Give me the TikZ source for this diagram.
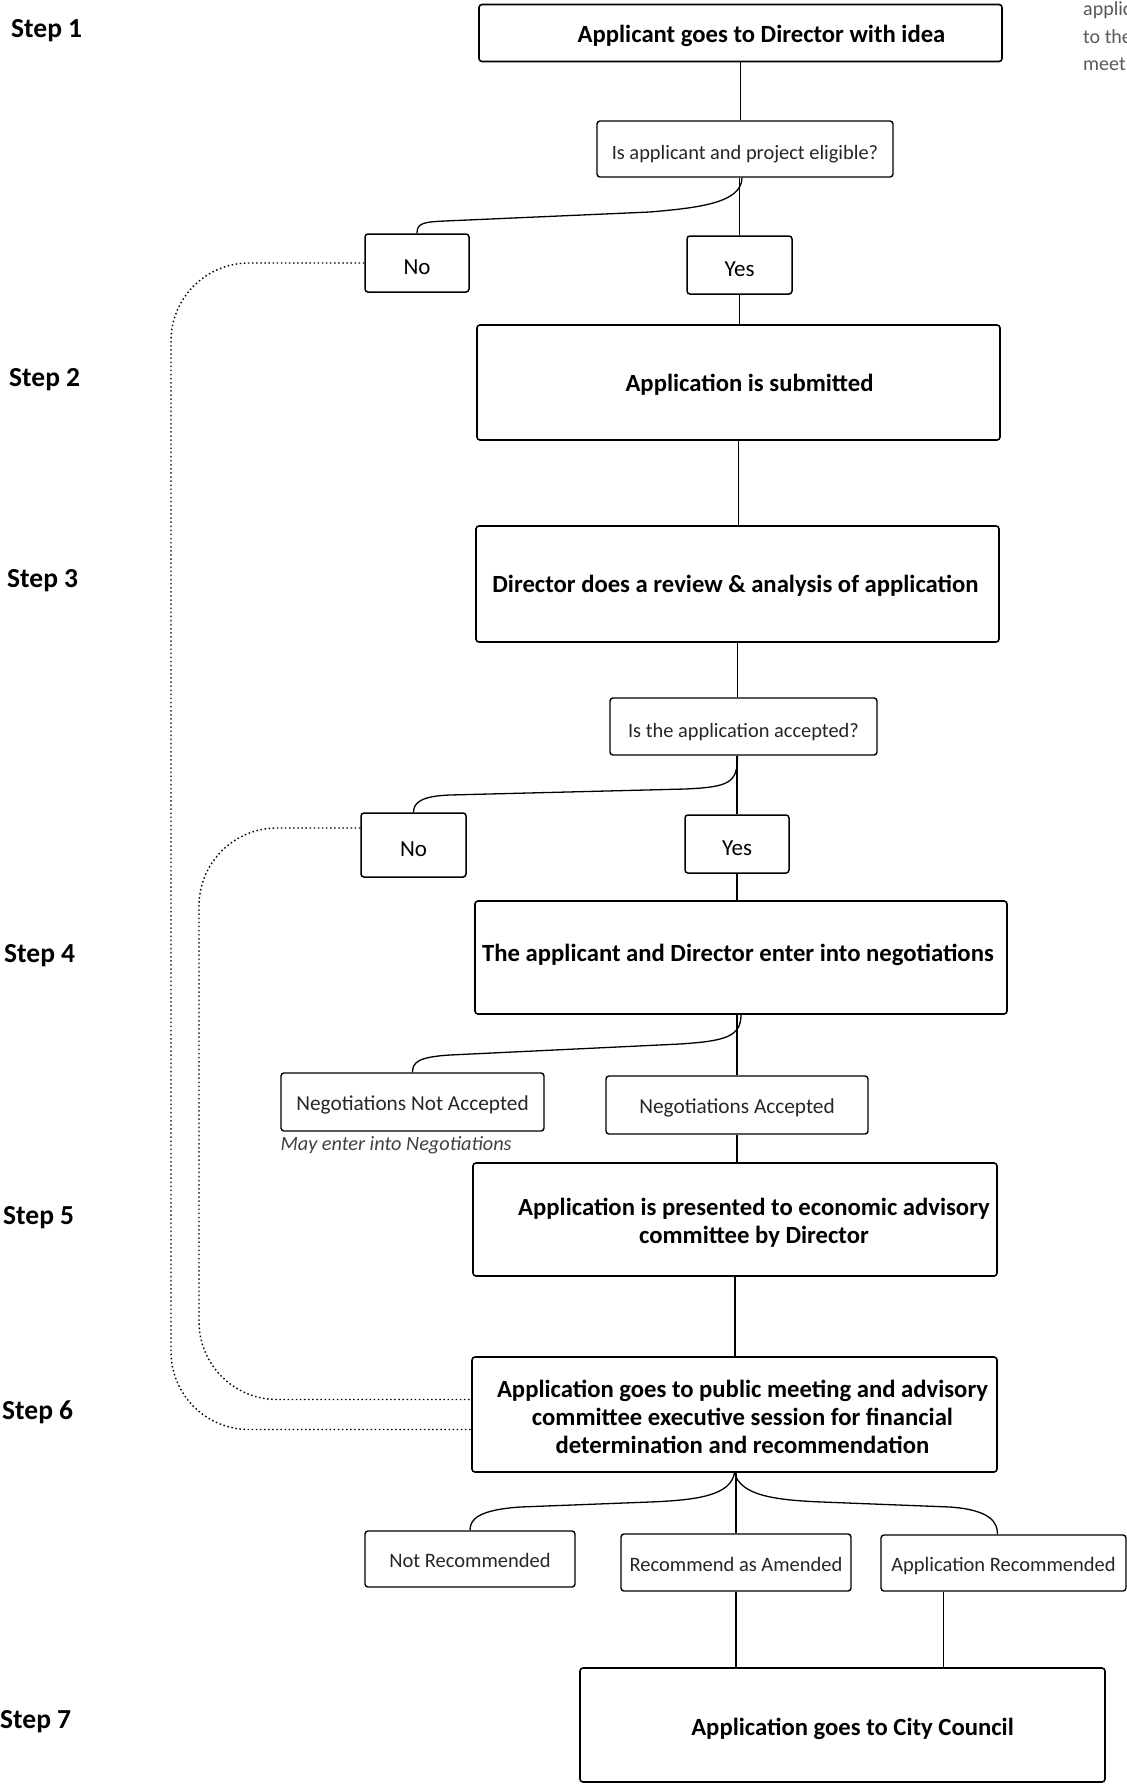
\documentclass[tikz,border=0pt]{standalone}
\usepackage{fontspec}
\setmainfont{Carlito}
\usepackage{tikz}
\usetikzlibrary{positioning, calc}

\tikzset{
  stepbox/.style={draw, line width=1.6pt, rounded corners=3pt, inner sep=0pt},
  steptext/.style={inner sep=0pt, align=center, font=\fontsize{24.7}{28}\selectfont\bfseries},
  askbox/.style={draw, line width=1.4pt, rounded corners=3pt, inner sep=0pt,
    text height=21.5pt, text depth=0pt, font=\fontsize{20.4}{24}\selectfont, text=black!85},
  ansbox/.style={draw, line width=1.5pt, rounded corners=3pt, inner sep=0pt,
    text height=22pt, text depth=0pt, font=\fontsize{23}{27}\selectfont},
  outbox/.style={draw, line width=1.4pt, rounded corners=3pt, inner sep=0pt,
    text height=17.5pt, text depth=0pt, font=\fontsize{21.3}{25}\selectfont, text=black!85},
  recbox/.style={outbox, font=\fontsize{20.5}{24}\selectfont},
  steplabel/.style={anchor=west, inner sep=0pt, font=\fontsize{27.5}{30}\selectfont\bfseries},
  notetext/.style={anchor=west, inner sep=0pt, font=\fontsize{20}{24}\selectfont, text=black!65},
  link/.style={line width=1.3pt},
  backlink/.style={line width=1.4pt, dash pattern=on 1.5pt off 2.6pt, rounded corners=78pt}
}

\begin{document}
\begin{tikzpicture}[x=1pt, y=-1pt]
  \useasboundingbox (0,0) rectangle (1127,1786);
  % step labels on the left
  \foreach \n/\xx/\yy in {1/11/31, 2/9/380, 3/7/581, 4/4/956, 5/3/1218, 6/2/1412, 7/0/1722}
    \node[steplabel] (step\n) at (\xx,\yy) {Step \n};
  % cut off note at top right
  \node[notetext] (noteA) at (1083,10) {applic};
  \node[notetext] (noteB) at (1083,37) {to the};
  \node[notetext] (noteC) at (1083,64) {meet};

  % step 1
  \node[stepbox, minimum width=523pt, minimum height=57pt] (idea) at (740.5,33) {};
  \node[steptext] (ideaText) at ([xshift=21pt, yshift=-3pt]idea) {Applicant goes to Director with idea};
  \node[askbox, minimum width=296pt, minimum height=56pt] (eligible) at (745,149) {Is applicant and project eligible?};
  \node[ansbox, minimum width=104pt, minimum height=58pt] (noA) at (417,263) {No};
  \node[ansbox, minimum width=105pt, minimum height=58pt] (yesA) at (739.5,265) {Yes};
  % step 2 and 3
  \node[stepbox, minimum width=523pt, minimum height=115pt] (submit) at (738.5,382.5) {};
  \node[steptext] (submitText) at ([xshift=11pt, yshift=-2.5pt]submit) {Application is submitted};
  \node[stepbox, minimum width=523pt, minimum height=116pt] (review) at (737.5,584) {};
  \node[steptext] (reviewText) at ([xshift=-2pt, yshift=-2pt]review) {Director does a review \& analysis of application};
  \node[askbox, minimum width=267pt, minimum height=57pt] (accepted) at (743.5,726.5) {Is the application accepted?};
  \node[ansbox, minimum width=105pt, minimum height=64pt] (noB) at (413.5,845) {No};
  \node[ansbox, minimum width=104pt, minimum height=58pt] (yesB) at (737,844) {Yes};
  % step 4
  \node[stepbox, minimum width=532pt, minimum height=113pt] (nego) at (741,957.5) {};
  \node[steptext] (negoText) at ([xshift=-3pt, yshift=2.5pt]nego) {The applicant and Director enter into negotiations};
  \node[outbox, minimum width=263pt, minimum height=58pt] (negoNo) at (412.5,1102) {Negotiations Not Accepted};
  \node[anchor=west, inner sep=0pt, font=\fontsize{20.3}{24}\selectfont\itshape, text=black!75] (negoNote) at ([yshift=-14pt]negoNo.south west) {May enter into Negotiations};
  \node[outbox, minimum width=262pt, minimum height=58pt] (negoYes) at (737,1105) {Negotiations Accepted};
  % step 5 and 6
  \node[stepbox, minimum width=524pt, minimum height=113pt] (present) at (735,1219.5) {};
  \node[steptext] (presentText) at ([xshift=19pt, yshift=-3pt]present) {Application is presented to economic advisory\\committee by Director};
  \node[stepbox, minimum width=525pt, minimum height=115pt] (meeting) at (734.5,1414.5) {};
  \node[steptext] (meetingText) at ([xshift=8pt, yshift=-2.5pt]meeting) {Application goes to public meeting and advisory\\committee executive session for financial\\determination and recommendation};
  \node[recbox, minimum width=210pt, minimum height=56pt] (notRec) at (470,1559) {Not Recommended};
  \node[recbox, minimum width=230pt, minimum height=57pt] (amended) at (736,1562.5) {Recommend as Amended};
  \node[recbox, minimum width=245pt, minimum height=56pt] (appRec) at (1003.5,1563) {Application Recommended};
  % step 7
  \node[stepbox, minimum width=525pt, minimum height=114pt] (council) at (842.5,1725) {};
  \node[steptext] (councilText) at ([xshift=10pt, yshift=-3.5pt]council) {Application goes to City Council};

  % straight links
  \draw[link] (idea.south) -- (idea.south |- eligible.north);
  \draw[link] (yesA.north) -- (yesA.north |- eligible.south);
  \draw[link] (yesA.south) -- (yesA.south |- submit.north);
  \draw[link] (submit.south) -- (submit.south |- review.north);
  \draw[link] (review.south) -- (review.south |- accepted.north);
  \draw[link] (yesB.north) -- (yesB.north |- accepted.south);
  \draw[link] (yesB.south) -- (yesB.south |- nego.north);
  \draw[link] (negoYes.north) -- (negoYes.north |- nego.south);
  \draw[link] (negoYes.south) -- (negoYes.south |- present.north);
  \draw[link] (present.south) -- (present.south |- meeting.north);
  \draw[link] (amended.north) -- (amended.north |- meeting.south);
  \draw[link] (amended.south) -- (amended.south |- council.north);
  \draw[link] ([xshift=-60pt]appRec.south) -- ([xshift=-60pt]appRec.south |- council.north);

  % curved links to the left branches
  \draw[link] ([xshift=-3pt]eligible.south) .. controls +(0,26) and +(45,-4) .. (650,212)
    -- (445,221) .. controls +(-22,1) and +(0,-10) .. (noA.north);
  \draw[link] ([xshift=-6pt]accepted.south) .. controls +(0,27) and +(45,-2) .. (685,789)
    -- (450,795) .. controls +(-28,1) and +(0,-10) .. (noB.north);
  \draw[link] (nego.south) .. controls +(0,22) and +(45,-3) .. (680,1044)
    -- (450,1055) .. controls +(-32,2) and +(0,-10) .. (negoNo.north);
  % brace below step 6
  \draw[link] (meeting.south) .. controls +(-4,22) and +(50,-2) .. (650,1502)
    -- (520,1507) .. controls +(-42,3) and +(0,-11) .. (notRec.north);
  \draw[link] (meeting.south) .. controls +(6,22) and +(-50,-2) .. (822,1502)
    -- (950,1507) .. controls +(42,3) and +(0,-11) .. ([xshift=-6pt]appRec.north);

  % dotted returns to step 6
  \draw[backlink] (noA.west) -| (171,800) |- ([yshift=-15pt]meeting.west);
  \draw[backlink] ([yshift=17pt]noB.west) -| (199,1100) |- ([yshift=15pt]meeting.west);
\end{tikzpicture}
\end{document}
